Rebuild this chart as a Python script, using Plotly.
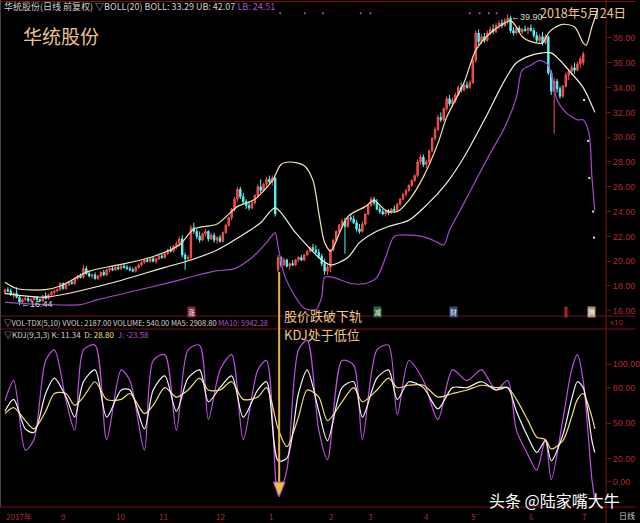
import plotly.graph_objects as go

# ---------------- candle data (index = trading day) ----------------
opens = [17.5,17.7,17.6,17.3,17.4,17.1,16.7,16.9,17.0,16.8,
         16.9,17.1,16.9,16.8,17.2,17.0,17.3,17.5,17.6,17.7,
         18.2,17.8,18.1,18.3,18.2,18.6,18.8,18.7,19.4,19.0,
         18.8,18.9,18.6,18.8,19.1,18.9,19.3,19.4,19.3,19.5,
         19.4,19.6,19.5,19.4,19.3,19.2,19.5,19.7,19.9,20.1,
         20.0,20.2,20.0,20.2,20.4,20.3,20.6,20.9,20.8,21.2,
         21.4,21.8,20.5,20.2,20.3,22.7,22.4,22.0,21.7,22.2,
         22.4,21.8,22.1,21.7,21.9,21.6,22.3,22.9,23.5,24.2,
         25.0,25.8,25.2,24.8,24.5,24.3,24.7,25.3,26.0,25.7,
         26.2,26.6,26.4,26.7,19.3,20.3,19.7,20.1,19.6,19.8,
         19.7,20.1,20.3,20.1,20.5,20.8,21.1,20.9,20.7,20.4,
         19.8,19.2,19.5,20.9,21.7,22.4,22.9,23.2,22.8,23.5,
         23.4,23.1,22.6,22.4,23.0,23.8,24.5,25.0,24.7,24.2,
         24.0,23.8,24.0,23.9,24.2,24.1,24.6,25.0,25.4,25.7,
         26.1,26.5,26.9,28.0,28.4,27.8,28.0,28.9,29.9,30.6,
         31.6,31.4,32.3,33.1,32.7,33.0,33.4,34.0,33.8,34.2,
         34.0,34.4,36.2,38.4,37.7,38.1,37.8,38.4,38.7,38.5,
         39.0,39.2,39.0,39.4,39.6,38.6,38.4,38.8,38.5,38.7,
         38.6,38.8,38.6,38.2,37.8,38.1,37.6,38.1,35.2,33.7,
         34.5,33.9,33.3,34.1,35.0,35.3,35.6,35.4,35.9,36.0]
highs = [17.8,17.9,17.8,17.5,17.9,17.2,17.0,17.1,17.1,17.0,
         17.2,17.2,17.0,17.3,17.5,17.4,17.6,17.7,17.8,18.3,
         18.3,18.2,18.4,18.5,18.7,18.9,19.0,19.7,19.6,19.2,
         19.0,19.1,18.9,19.2,19.3,19.4,19.5,19.6,19.6,19.7,
         19.8,19.8,19.7,19.6,19.5,19.6,19.8,20.0,20.2,20.3,
         20.3,20.4,20.3,20.5,20.6,20.7,21.0,21.2,21.3,21.6,
         22.0,22.1,20.7,20.5,22.9,23.1,22.6,22.4,22.3,22.6,
         22.5,22.3,22.3,22.0,22.1,22.4,23.0,23.6,24.3,25.2,
         26.0,26.0,25.5,25.0,24.8,24.9,25.4,26.2,26.6,26.3,
         26.8,26.9,26.9,26.8,20.5,20.4,20.3,20.2,19.9,20.1,
         20.2,20.4,20.5,20.6,20.9,21.2,21.4,21.3,21.0,20.6,
         20.2,19.7,21.0,21.8,22.5,23.0,23.4,23.5,23.6,23.8,
         23.7,23.3,23.0,23.2,23.9,24.6,25.2,25.2,25.0,24.5,
         24.2,24.1,24.2,24.3,24.5,24.7,25.1,25.5,25.8,26.2,
         26.6,27.0,28.2,28.6,28.6,28.2,29.0,30.0,30.8,31.8,
         32.0,32.4,33.3,33.4,33.2,33.6,34.2,34.4,34.3,34.5,
         34.6,36.4,38.6,38.7,38.3,38.4,38.6,38.9,39.1,39.2,
         39.4,39.5,39.6,39.9,39.8,38.9,38.9,39.0,38.8,39.0,
         38.9,39.1,38.8,38.5,38.3,38.5,38.3,38.2,35.4,34.8,
         34.7,34.1,34.2,35.2,35.5,35.8,36.0,36.1,36.5,36.9]
lows = [17.3,17.5,17.2,17.0,17.0,16.44,16.6,16.8,16.7,16.7,
        16.8,16.8,16.7,16.7,16.9,16.9,17.2,17.3,17.5,17.6,
        17.7,17.7,18.0,18.1,18.1,18.5,18.6,18.6,18.9,18.7,
        18.6,18.5,18.5,18.7,18.8,18.8,19.1,19.2,19.2,19.3,
        19.3,19.4,19.3,19.2,19.1,19.1,19.4,19.6,19.8,19.9,
        19.9,19.9,19.8,20.1,20.2,20.2,20.5,20.7,20.7,21.0,
        21.2,20.3,19.3,20.0,20.1,22.2,21.8,21.5,21.6,22.0,
        21.6,21.7,21.5,21.4,21.5,21.5,22.2,22.8,23.3,24.0,
        24.8,25.0,24.6,24.2,24.1,24.2,24.6,25.1,25.5,25.6,
        26.0,26.2,26.1,23.6,19.1,19.5,19.6,19.5,19.3,19.6,
        19.6,19.9,20.0,20.0,20.4,20.7,20.8,20.6,20.2,19.6,
        18.9,18.9,19.1,20.8,21.6,22.2,22.6,20.6,22.7,23.2,
        23.0,22.4,22.2,22.3,22.9,23.7,24.4,24.5,24.1,23.8,
        23.7,23.6,23.7,23.8,23.9,24.0,24.5,24.9,25.2,25.6,
        26.0,26.4,26.8,27.8,27.6,27.5,27.9,28.8,29.7,30.5,
        31.2,31.3,32.1,32.5,32.4,32.8,33.3,33.6,33.7,33.9,
        33.9,34.3,36.0,37.4,37.5,37.6,37.7,38.2,38.3,38.4,
        38.7,38.8,38.9,39.1,38.4,38.2,38.3,38.4,38.3,38.5,
        38.3,38.5,38.0,37.6,37.6,37.4,37.5,35.0,33.4,30.3,
        33.6,33.1,33.2,34.0,34.6,35.0,35.1,35.3,35.6,35.8]
closes = [17.7,17.6,17.3,17.4,17.1,16.7,16.9,17.0,16.8,16.9,
          17.1,16.9,16.8,17.2,17.0,17.3,17.5,17.6,17.7,18.2,
          17.8,18.1,18.3,18.2,18.6,18.8,18.7,19.4,19.0,18.8,
          18.9,18.6,18.8,19.1,18.9,19.3,19.4,19.3,19.5,19.4,
          19.6,19.5,19.4,19.3,19.2,19.5,19.7,19.9,20.1,20.0,
          20.2,20.0,20.2,20.4,20.3,20.6,20.9,20.8,21.2,21.4,
          21.8,20.5,20.2,20.3,22.7,22.4,22.0,21.7,22.2,22.4,
          21.8,22.1,21.7,21.9,21.6,22.3,22.9,23.5,24.2,25.0,
          25.8,25.2,24.8,24.5,24.3,24.7,25.3,26.0,25.7,26.2,
          26.6,26.4,26.7,23.8,20.3,19.7,20.1,19.6,19.8,19.7,
          20.1,20.3,20.1,20.5,20.8,21.1,20.9,20.7,20.4,19.8,
          19.2,19.5,20.9,21.7,22.4,22.9,23.2,22.8,23.5,23.4,
          23.1,22.6,22.4,23.0,23.8,24.5,25.0,24.7,24.2,24.0,
          23.8,24.0,23.9,24.2,24.1,24.6,25.0,25.4,25.7,26.1,
          26.5,26.9,28.0,28.4,27.8,28.0,28.9,29.9,30.6,31.6,
          31.4,32.3,33.1,32.7,33.0,33.4,34.0,33.8,34.2,34.0,
          34.4,36.2,38.4,37.7,38.1,37.8,38.4,38.7,38.5,39.0,
          39.2,39.0,39.4,39.6,38.6,38.4,38.8,38.5,38.7,38.6,
          38.8,38.6,38.2,37.8,38.1,37.6,38.1,35.2,33.7,34.5,
          33.9,33.3,34.1,35.0,35.3,35.6,35.4,35.9,36.3,36.7]

# ---------------- BOLL(20) lines ----------------
up_idx = [0,4,14,19,29,39,50,60,65,73,80,86,92,95,98,103,106,108,110,112,113,118,124,127,131,135,139,144,149,152,158,162,167,172,174,176,178,181,185,187,189,192,196,199,200,202,204]
up_val = [18.3,17.8,17.7,18.0,19.2,19.7,20.3,21.3,22.6,23.0,24.4,25.0,26.5,27.8,28.0,27.7,26.5,23.9,21.5,20.8,21.1,23.6,24.4,24.9,24.1,24.0,24.9,26.8,29.5,31.6,34.4,37.0,38.4,39.2,39.4,38.9,38.1,37.7,37.6,38.4,38.8,39.1,38.9,37.6,37.4,38.9,40.3]
mid_idx = [0,14,36,55,64,73,81,88,93,100,108,112,118,122,127,132,139,145,152,158,165,172,176,181,185,188,191,194,199,203]
mid_val = [17.4,17.1,18.2,19.5,20.1,20.9,22.0,23.1,24.3,22.3,20.3,19.7,20.3,21.5,22.3,22.8,23.3,24.5,26.3,28.4,31.4,34.6,36.0,36.6,36.8,36.8,36.2,35.4,34.0,32.0]
low_idx = [0,5,15,26,32,50,62,72,79,85,90,92,93,94,96,100,103,107,109,110,113,119,124,128,131,134,140,145,149,151,153,158,162,167,172,176,178,181,184,187,189,190,193,197,199,201,202,203]
low_val = [16.7,16.6,16.5,16.5,16.9,17.9,18.6,19.2,19.4,20.3,21.5,22.1,22.3,21.2,19.0,17.1,16.2,16.1,17.1,18.7,18.7,18.2,18.2,18.7,20.3,22.0,22.1,21.9,21.5,21.3,22.5,24.7,26.5,28.7,30.8,33.2,35.4,35.8,36.2,35.8,34.0,33.0,32.0,31.4,31.4,30.3,26.8,24.1]

# ---------------- KDJ(9,3,3) ----------------
kdj_idx = [0,3,7,10,14,17,21,24,27,31,35,40,43,48,51,55,59,63,67,70,74,78,82,87,90,94,97,101,104,108,111,116,120,123,128,132,135,139,144,149,154,159,164,169,173,176,180,183,186,188,192,195,197,199,202,203]
k_val = [60,70,45,42,75,88,72,55,85,95,55,78,78,45,78,90,60,88,95,68,80,90,55,78,85,18,20,75,95,60,35,80,85,55,88,95,70,85,80,62,80,80,85,78,80,60,38,25,35,18,40,70,85,80,35,25]
d_val = [58,63,52,45,60,75,75,65,72,85,70,70,75,58,65,80,72,78,88,78,78,85,70,72,80,45,30,55,78,72,52,68,80,68,78,88,80,82,82,72,75,78,82,80,80,70,52,38,36,28,35,55,70,75,55,45]
j_val = [69,86,27,36,103,112,69,44,112,116,36,95,86,27,103,108,44,112,116,53,95,108,36,95,103,-11,10,112,120,44,19,103,99,36,112,116,57,103,86,53,95,86,95,78,86,44,23,10,36,2,53,95,108,86,2,-15]

# small markers
top_dot_idx = [94.7,103.2,109.4,122.4,125.8,160,163.4,166.5,169.2]
tail_dot_idx = [199.3,200.7,201.1,202.4,202.7]
tail_dot_val = [33.0,29.7,26.7,24.0,21.9]

price_ticks = [16,18,20,22,24,26,28,30,32,34,36,38]
kdj_ticks = [0,20,50,80,100]
month_labels = ['2017年','9','10','11','12','1','2','3','4','5','6','7']
month_idx = [-0.3,18.5,37.6,52.3,72.1,90.3,110.8,124.4,143.6,159.7,179.5,198.0]

# ---------------- figure ----------------
PW, PH = 610, 507
def px(x): return x / PW
def py(y): return (PH - y) / PH

FONT = 'Noto Sans CJK SC'
RED = '#b02a2a'
DARKRED = '#7a1010'

fig = go.Figure()
fig.add_trace(go.Candlestick(
    x=list(range(len(closes))), open=opens, high=highs, low=lows, close=closes,
    increasing=dict(line=dict(color='#ff5050', width=1), fillcolor='#d84040'),
    decreasing=dict(line=dict(color='#54f4f4', width=1), fillcolor='#54f4f4'),
    whiskerwidth=0, xaxis='x', yaxis='y', hoverinfo='skip', showlegend=False))

spl = dict(shape='spline', smoothing=0.8)
fig.add_trace(go.Scatter(x=up_idx, y=up_val, mode='lines', yaxis='y',
                         line=dict(color='#efe2b0', width=1.2, **spl), hoverinfo='skip'))
fig.add_trace(go.Scatter(x=mid_idx, y=mid_val, mode='lines', yaxis='y',
                         line=dict(color='#f2ecd8', width=1.2, **spl), hoverinfo='skip'))
fig.add_trace(go.Scatter(x=low_idx, y=low_val, mode='lines', yaxis='y',
                         line=dict(color='#a846c8', width=1.2, **spl), hoverinfo='skip'))
fig.add_trace(go.Scatter(x=top_dot_idx, y=[40.0]*len(top_dot_idx), mode='markers', yaxis='y',
                         marker=dict(color='#c05a9a', size=2), hoverinfo='skip'))
fig.add_trace(go.Scatter(x=tail_dot_idx, y=tail_dot_val, mode='markers', yaxis='y',
                         marker=dict(color='#e0e0e0', size=2, symbol='square'), hoverinfo='skip'))

fig.add_trace(go.Scatter(x=kdj_idx, y=j_val, mode='lines', yaxis='y2',
                         line=dict(color='#c050e0', width=1.2, **spl), hoverinfo='skip'))
fig.add_trace(go.Scatter(x=kdj_idx, y=d_val, mode='lines', yaxis='y2',
                         line=dict(color='#f0e070', width=1.2, **spl), hoverinfo='skip'))
fig.add_trace(go.Scatter(x=kdj_idx, y=k_val, mode='lines', yaxis='y2',
                         line=dict(color='#f4f4f4', width=1.2, **spl), hoverinfo='skip'))

axis_common = dict(side='right', showgrid=False, zeroline=False, showline=False,
                   ticks='outside', ticklen=4, tickcolor=DARKRED,
                   tickfont=dict(color=RED, size=9, family='Liberation Sans'), fixedrange=True)

fig.update_layout(
    width=640, height=523, margin=dict(l=0, r=30, t=0, b=16),
    paper_bgcolor='#000000', plot_bgcolor='#000000', showlegend=False,
    xaxis=dict(range=[-1.709, 206.84], visible=False, anchor='y2',
               rangeslider=dict(visible=False), fixedrange=True),
    yaxis=dict(domain=[py(316), py(3)], range=[15.58, 40.82],
               tickvals=price_ticks, ticktext=['%.2f' % v for v in price_ticks], **axis_common),
    yaxis2=dict(domain=[0, py(329)], range=[-21.2, 129.7],
                tickvals=kdj_ticks, ticktext=['%.2f' % v for v in kdj_ticks], **axis_common),
)

shapes = []
def hline(y, color=DARKRED, x0=0, x1=640, w=1):
    shapes.append(dict(type='line', xref='paper', yref='paper', x0=px(x0), x1=px(x1),
                       y0=py(y), y1=py(y), line=dict(color=color, width=w)))
hline(1.5)
hline(316)
hline(329)
hline(507)
shapes.append(dict(type='line', xref='paper', yref='paper', x0=1, x1=1, y0=py(523), y1=py(0),
                   line=dict(color=DARKRED, width=1)))
shapes.append(dict(type='line', xref='paper', yref='paper', x0=px(0.5), x1=px(0.5), y0=py(507), y1=py(0),
                   line=dict(color='#444444', width=1)))
# annotation arrow line
shapes.append(dict(type='line', xref='paper', yref='paper', x0=px(281), x1=px(281), y0=py(272), y1=py(484),
                   line=dict(color='#f0b050', width=2)))
shapes.append(dict(type='path', xref='paper', yref='paper',
                   path='M %f,%f L %f,%f L %f,%f Z' % (px(275), py(482), px(287), py(482), px(281), py(497)),
                   fillcolor='#f0c040', line=dict(color='#a040c0', width=1)))
fig.update_layout(shapes=shapes)

ann = []
def text(x, y, s, size=9, color='#d0d0d0', anchor='left', family=FONT, **kw):
    ann.append(dict(x=px(x), y=py(y), xref='paper', yref='paper', text=s, showarrow=False,
                    xanchor=anchor, yanchor='middle', font=dict(size=size, color=color, family=family), **kw))

PURPLE = '#b050d0'
text(2, 7, '华统股份(日线 前复权) ▽BOLL(20) BOLL: 33.29 UB: 42.07 '
     '<span style="color:%s">LB: 24.51</span>' % PURPLE, size=9)
text(21, 35, '华统股份', size=19, color='#e8c48a')
text(542, 12, '2018年5月24日', size=12.5, color='#ecc88e')
text(512, 17, '←39.90', size=9, color='#d8d8d8', family='Liberation Sans')
text(19, 304, '←16.44', size=9, color='#d8d8d8', family='Liberation Sans')
text(2, 322, '▽VOL-TDX(5,10) VVOL: 2187.00 VOLUME: 540.00 MA5: 2908.80 '
     '<span style="color:%s">MA10: 5942.28</span>' % PURPLE, size=7.5)
text(2, 334, '▽KDJ(9,3,3) K: 11.34  D: <span style="color:#f0e070">28.80</span>  '
     '<span style="color:%s">J: -23.58</span>' % PURPLE, size=8)
text(284, 315, '股价跌破下轨', size=13, color='#ecc88e')
text(284, 334, 'KDJ处于低位', size=13, color='#ecc88e')
text(490, 500, '头条 @陆家嘴大牛', size=16, color='#ffffff')
text(612, 323, 'x10', size=8, color='#a03030', family='Liberation Sans')
text(621, 515, '日线', size=8, color='#c8c8c8')
# event markers
for xx, s, bg in [(193, '涨', '#8a2040'), (380, '减', '#206a30'), (456, '财', '#304a80'),
                  (570, ' ', '#b02020'), (595, '腾', '#b09070')]:
    ann.append(dict(x=px(xx), y=py(312), xref='paper', yref='paper', text=s, showarrow=False,
                    xanchor='center', yanchor='middle', bgcolor=bg, borderpad=0,
                    font=dict(size=7, color='#f0f0f0', family=FONT)))
# month labels on the time axis
for i, lab in zip(month_idx, month_labels):
    ann.append(dict(x=i, y=py(516), xref='x', yref='paper', text=lab, showarrow=False,
                    xanchor='left', yanchor='middle', font=dict(size=8, color=RED, family=FONT)))
fig.update_layout(annotations=ann)

fig.write_html('out.html', config={'displayModeBar': False},
               post_script="document.body.style.margin='0';document.body.style.overflow='hidden';")
